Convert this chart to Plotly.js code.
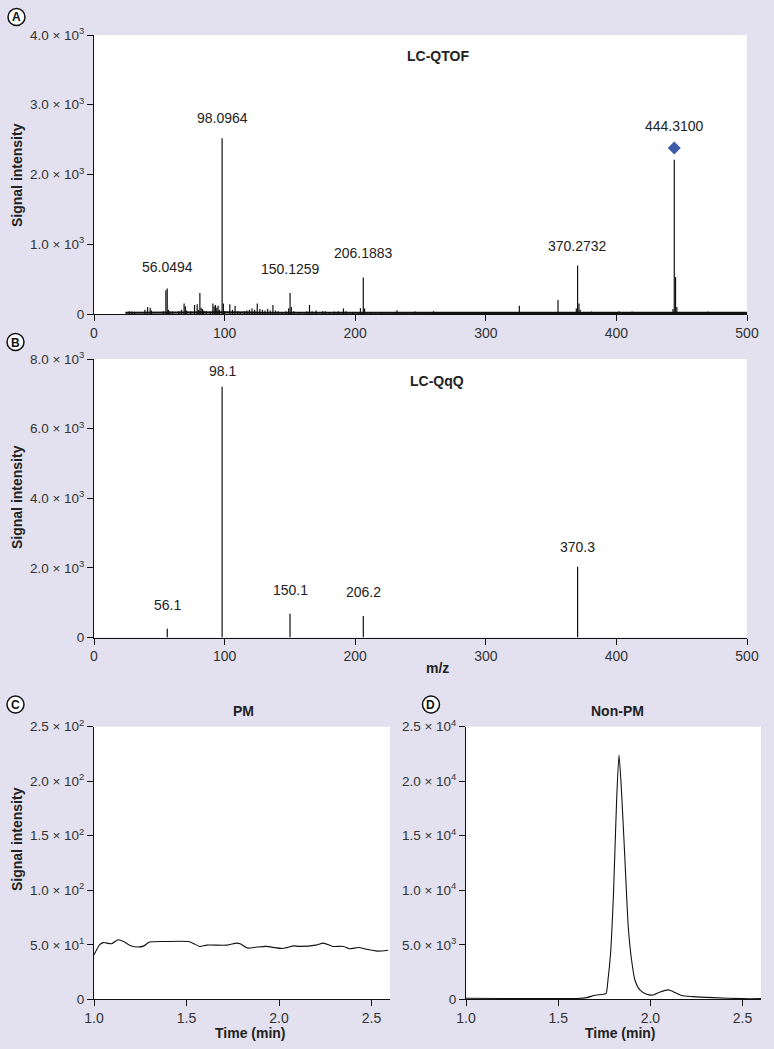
<!DOCTYPE html>
<html>
<head>
<meta charset="utf-8">
<script src="https://cdn.plot.ly/plotly-3.0.1.min.js"></script>
<style>html,body{margin:0;padding:0;background:#e3e1ef;}#chart{width:774px;height:1049px;}</style>
</head>
<body>
<div id="chart"></div>
<script>
// ---------- Panel A: LC-QTOF spectrum ----------
const qtofMz = [27,29,31,39,41,43,44,53,55.05,56.0494,57,58,60,65,67,69,70,71,74,77,79,80,81.07,82,83,84,86,89,91,92,93,94,95,96,98.0964,99.1,100,104,106,108,110,112,115,117,119,121,123,125,127,129,131,133,135,137,139,141,144,147,149,150.1259,151.1,153,157,163,165,167,170,175,177,180,184,187,191,193,198,204,206.1883,207.2,212,220,232,246,260,272,289,300,310,325.7,337,355.3,369.3,370.2732,371.3,372.3,381,392,402,412,426,443.3,444.31,445.3,446.3,460,470,485,495];
const qtofInt = [40,35,30,60,100,90,50,40,340,365,60,40,35,40,60,150,110,50,40,130,140,60,300,90,70,50,40,30,150,110,130,90,120,60,2520,150,40,140,60,120,40,30,40,50,60,80,60,150,70,60,50,70,50,130,50,40,30,40,80,300,100,40,30,40,130,40,50,40,40,30,35,40,80,40,30,85,525,80,30,25,55,35,40,30,30,30,30,120,30,200,80,695,150,60,35,30,40,35,30,70,2210,530,100,30,35,30,30];
const qtofBaseMz  = [24,40,60,80,100,130,160,200,240,280,320,360,400,440,470,500];
const qtofBaseInt = [18,20,22,20,22,18,20,18,16,17,15,18,16,17,15,16];
const qtofLabelMz  = [56.0494,98.0964,150.1259,206.1883,370.2732,444.31];
const qtofLabelInt = [365,2520,300,525,695,2380];
const qtofLabels   = ["56.0494","98.0964","150.1259","206.1883","370.2732","444.3100"];
const precursorMz  = [444.31];
const precursorInt = [2380];

// ---------- Panel B: LC-QqQ spectrum ----------
const qqqMz  = [56.1,98.1,150.1,206.2,370.3];
const qqqInt = [250,7200,680,620,2030];
const qqqLabels = ["56.1","98.1","150.1","206.2","370.3"];

// ---------- Panel C: PM chromatogram ----------
const pmTime = [1.0,1.03,1.05,1.095,1.13,1.16,1.195,1.24,1.27,1.30,1.39,1.51,1.54,1.57,1.61,1.72,1.77,1.79,1.83,1.88,1.93,2.02,2.08,2.11,2.2,2.24,2.29,2.35,2.38,2.43,2.47,2.53,2.59];
const pmInt  = [40.8,50,52,51,54.6,53,49.4,47.9,49,52.5,53,53,51,48.5,49.7,49.7,51.5,51,47,47.9,48.5,46.6,49,48.5,49.7,51.5,48.5,48.5,46.3,47.5,46,44.2,45];

// ---------- Panel D: Non-PM chromatogram ----------
const npmTime = [1.0,1.2,1.4,1.6,1.654,1.70,1.745,1.76,1.77,1.784,1.80,1.817,1.83,1.844,1.862,1.88,1.898,1.916,1.943,1.98,2.016,2.05,2.097,2.124,2.17,2.23,2.34,2.5,2.6];
const npmInt  = [90,80,70,80,150,370,460,550,1770,4200,9700,18300,22400,18900,12800,6660,3600,1770,860,460,400,640,860,700,340,245,150,60,60];

// tick labels
const yTickA = ["0","1.0 × 10<sup>3</sup>","2.0 × 10<sup>3</sup>","3.0 × 10<sup>3</sup>","4.0 × 10<sup>3</sup>"];
const yTickB = ["0","2.0 × 10<sup>3</sup>","4.0 × 10<sup>3</sup>","6.0 × 10<sup>3</sup>","8.0 × 10<sup>3</sup>"];
const yTickC = ["0","5.0 × 10<sup>1</sup>","1.0 × 10<sup>2</sup>","1.5 × 10<sup>2</sup>","2.0 × 10<sup>2</sup>","2.5 × 10<sup>2</sup>"];
const yTickD = ["0","5.0 × 10<sup>3</sup>","1.0 × 10<sup>4</sup>","1.5 × 10<sup>4</sup>","2.0 × 10<sup>4</sup>","2.5 × 10<sup>4</sup>"];
const xTickT = ["1.0","1.5","2.0","2.5"];

function sticks(mz, inten){
  const x=[], y=[];
  for(let i=0;i<mz.length;i++){ x.push(mz[i],mz[i],null); y.push(0,inten[i],null); }
  return {x,y};
}
const W=774, H=1049;
const px = v => v/W, py = v => 1 - v/H;
const FONT = "Liberation Sans, Arial, sans-serif";

const sA = sticks(qtofMz, qtofInt);
const sB = sticks(qqqMz, qqqInt);

const traces = [
  {x:qtofBaseMz, y:qtofBaseInt, xaxis:'x', yaxis:'y', mode:'lines', line:{color:'#111', width:2.2}, hoverinfo:'skip', showlegend:false},
  {x:sA.x, y:sA.y, xaxis:'x', yaxis:'y', mode:'lines', line:{color:'#111', width:1.2}, showlegend:false},
  {x:precursorMz, y:precursorInt, xaxis:'x', yaxis:'y', mode:'markers', marker:{symbol:'diamond', size:10, color:'#3d5ba8'}, showlegend:false},
  {x:sB.x, y:sB.y, xaxis:'x2', yaxis:'y2', mode:'lines', line:{color:'#111', width:1.2}, showlegend:false},
  {x:pmTime, y:pmInt, xaxis:'x3', yaxis:'y3', mode:'lines', line:{color:'#111', width:1.1, shape:'spline', smoothing:0.6}, showlegend:false},
  {x:npmTime, y:npmInt, xaxis:'x4', yaxis:'y4', mode:'lines', line:{color:'#111', width:1.1, shape:'spline', smoothing:0.6}, showlegend:false}
];

const axBase = {showline:true, linecolor:'#111', linewidth:1, ticks:'outside', ticklen:6, tickwidth:1, tickcolor:'#111',
  showgrid:false, zeroline:false, mirror:false, tickfont:{family:FONT, size:13.5, color:'#333'}, fixedrange:true};
function ax(extra){ return Object.assign({}, axBase, extra); }
const xFont = {family:FONT, size:14, color:'#333'};

const annotations = [];
// peak labels A
const shiftA = [12,10,14,14,10,12];
qtofLabelMz.forEach((m,i)=>annotations.push({xref:'x', yref:'y', x:m, y:qtofLabelInt[i], text:qtofLabels[i], showarrow:false, yanchor:'bottom', yshift:shiftA[i], font:{family:FONT,size:14,color:'#222'}}));
const shiftB = [14,6,14,14,10];
qqqMz.forEach((m,i)=>annotations.push({xref:'x2', yref:'y2', x:m, y:qqqInt[i], text:qqqLabels[i], showarrow:false, yanchor:'bottom', yshift:shiftB[i], font:{family:FONT,size:14,color:'#222'}}));

function txt(x,y,t,opts){ annotations.push(Object.assign({xref:'paper', yref:'paper', x:px(x), y:py(y), text:t, showarrow:false, xanchor:'center', yanchor:'middle', font:{family:FONT,size:14,color:'#222'}}, opts||{})); }
txt(438,56,'<b>LC-QTOF</b>');
txt(437,381,'<b>LC-QqQ</b>');
txt(243,711,'<b>PM</b>');
txt(617,711,'<b>Non-PM</b>');
txt(437,668,'<b>m/z</b>');
txt(250,1033,'<b>Time (min)</b>');
txt(620,1033,'<b>Time (min)</b>');
txt(17,175,'<b>Signal intensity</b>',{textangle:-90});
txt(17,497,'<b>Signal intensity</b>',{textangle:-90});
txt(17,839,'<b>Signal intensity</b>',{textangle:-90});

const shapes = [];
const letters = [['A',16.5,17],['B',15.5,342],['C',15.5,704.5],['D',431,704.5]];
letters.forEach(([l,cx,cy])=>{
  shapes.push({type:'circle', xref:'paper', yref:'paper', x0:px(cx-8.5), x1:px(cx+8.5), y0:py(cy+8.5), y1:py(cy-8.5), line:{color:'#111', width:1.5}, fillcolor:'#fff'});
  txt(cx,cy+0.5,'<b>'+l+'</b>',{font:{family:FONT,size:12,color:'#111'}});
});

const layout = {
  width:W, height:H, margin:{l:0,r:0,t:0,b:0},
  paper_bgcolor:'#e3e1ef', plot_bgcolor:'#ffffff', showlegend:false,
  xaxis: ax({domain:[px(94),px(747)], anchor:'y', range:[0,500], tickvals:[0,100,200,300,400,500], tickfont:xFont}),
  yaxis: ax({domain:[py(314),py(35)], anchor:'x', range:[0,4000], tickvals:[0,1000,2000,3000,4000], ticktext:yTickA}),
  xaxis2: ax({domain:[px(94),px(747)], anchor:'y2', range:[0,500], tickvals:[0,100,200,300,400,500], tickfont:xFont}),
  yaxis2: ax({domain:[py(637.5),py(359)], anchor:'x2', range:[0,8000], tickvals:[0,2000,4000,6000,8000], ticktext:yTickB}),
  xaxis3: ax({domain:[px(94),px(390)], anchor:'y3', range:[1,2.6], tickvals:[1,1.5,2,2.5], ticktext:xTickT, tickfont:xFont}),
  yaxis3: ax({domain:[py(999.3),py(726.7)], anchor:'x3', range:[0,250], tickvals:[0,50,100,150,200,250], ticktext:yTickC}),
  xaxis4: ax({domain:[px(466),px(761)], anchor:'y4', range:[1,2.6], tickvals:[1,1.5,2,2.5], ticktext:xTickT, tickfont:xFont}),
  yaxis4: ax({domain:[py(999.3),py(726.7)], anchor:'x4', range:[0,25000], tickvals:[0,5000,10000,15000,20000,25000], ticktext:yTickD}),
  annotations, shapes
};
Plotly.newPlot('chart', traces, layout, {displayModeBar:false, staticPlot:true});
</script>
</body>
</html>
